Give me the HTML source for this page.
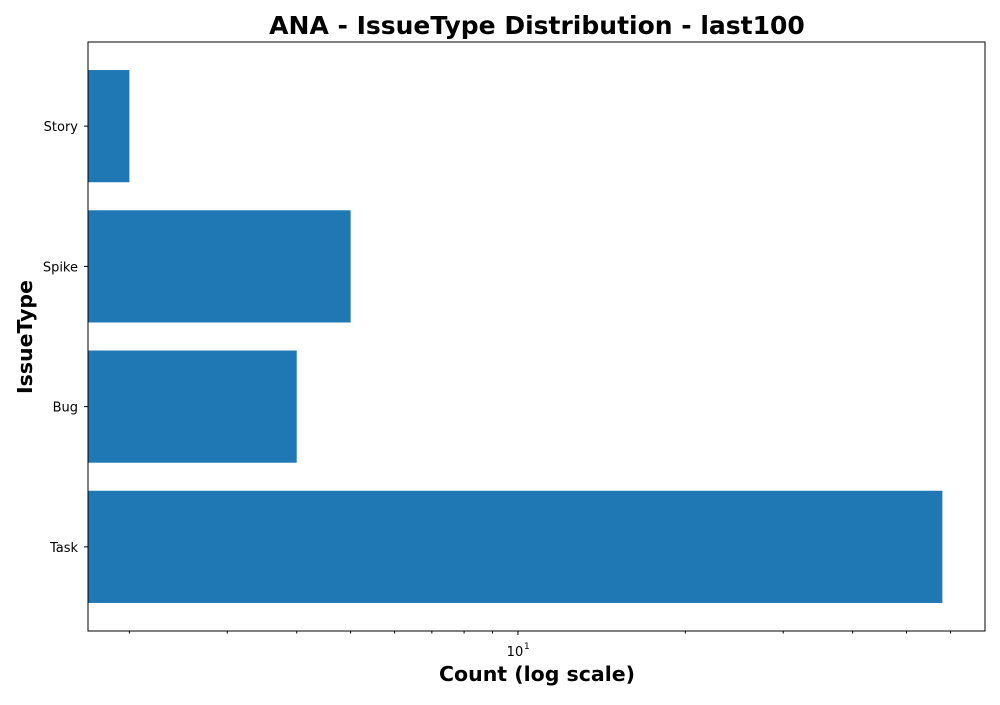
<!DOCTYPE html>
<html><head><meta charset="utf-8"><style>
body{margin:0;background:#fff;font-family:"Liberation Sans","DejaVu Sans",sans-serif}
</style></head><body>
<svg width="1000" height="700" xmlns="http://www.w3.org/2000/svg">
<text x="537" y="34" text-anchor="middle" font-size="25" font-weight="bold" font-family="DejaVu Sans, Liberation Sans, sans-serif">ANA - IssueType Distribution - last100</text>
<g id="bars"></g>
<g id="xticks"></g>
<g id="yticks"></g>
<rect x="88" y="42" width="897" height="589" fill="none" stroke="#000" stroke-width="1"/>
<text x="537" y="681" text-anchor="middle" font-size="20.5" font-weight="bold" font-family="DejaVu Sans, Liberation Sans, sans-serif">Count (log scale)</text>
<text transform="translate(32,337) rotate(-90)" text-anchor="middle" font-size="20.5" font-weight="bold" font-family="DejaVu Sans, Liberation Sans, sans-serif">IssueType</text>
</svg>
<script>
const categories = ["Story","Spike","Bug","Task"];
const counts = [2,5,4,58];
const majorTicks = [10];
const minorTicks = [2,3,4,5,6,7,8,9,20,30,40,50,60];
const NS="http://www.w3.org/2000/svg";
const L=88,R=985,T=42,B=631,xmin=1.685,xmax=69.2;
function x(v){return L+(Math.log10(v)-Math.log10(xmin))/(Math.log10(xmax)-Math.log10(xmin))*(R-L);}
const n=categories.length;
const band=(B-T)/(n-1+1.2);
function yc(i){return T+band*(0.6+i);}
function mk(t,a,p){const e=document.createElementNS(NS,t);for(const k in a)e.setAttribute(k,a[k]);p.appendChild(e);return e;}
const bars=document.getElementById('bars'),xt=document.getElementById('xticks'),yt=document.getElementById('yticks');
categories.forEach((c,i)=>{
  const h=band*0.8;
  const r=mk('rect',{x:L,y:yc(i)-h/2,width:Math.max(0,x(counts[i])-L),height:h,fill:'#1f77b4'},bars);
  
  
  mk('line',{x1:L-4,x2:L,y1:yc(i),y2:yc(i),stroke:'#000'},yt);
  const t=mk('text',{x:L-10,y:yc(i)+5,'text-anchor':'end','font-size':13,'font-family':'DejaVu Sans, Liberation Sans, sans-serif'},yt);
  t.textContent=c;
  
  
});
minorTicks.forEach(v=>{if(v>=xmin&&v<=xmax)mk('line',{x1:x(v),x2:x(v),y1:B,y2:B+2.5,stroke:'#000'},xt);});
majorTicks.forEach(v=>{
  mk('line',{x1:x(v),x2:x(v),y1:B,y2:B+4,stroke:'#000'},xt);
  const t=mk('text',{x:x(v)-3,y:B+25,'text-anchor':'middle','font-size':13,'font-family':'DejaVu Sans, Liberation Sans, sans-serif'},xt);
  t.textContent='10';
  
  
  const s=mk('text',{x:x(v)+6,y:B+18,'font-size':9,'font-family':'DejaVu Sans, Liberation Sans, sans-serif'},xt);
  s.textContent=String(Math.round(Math.log10(v)));
  
  
});
</script>
</body></html>
